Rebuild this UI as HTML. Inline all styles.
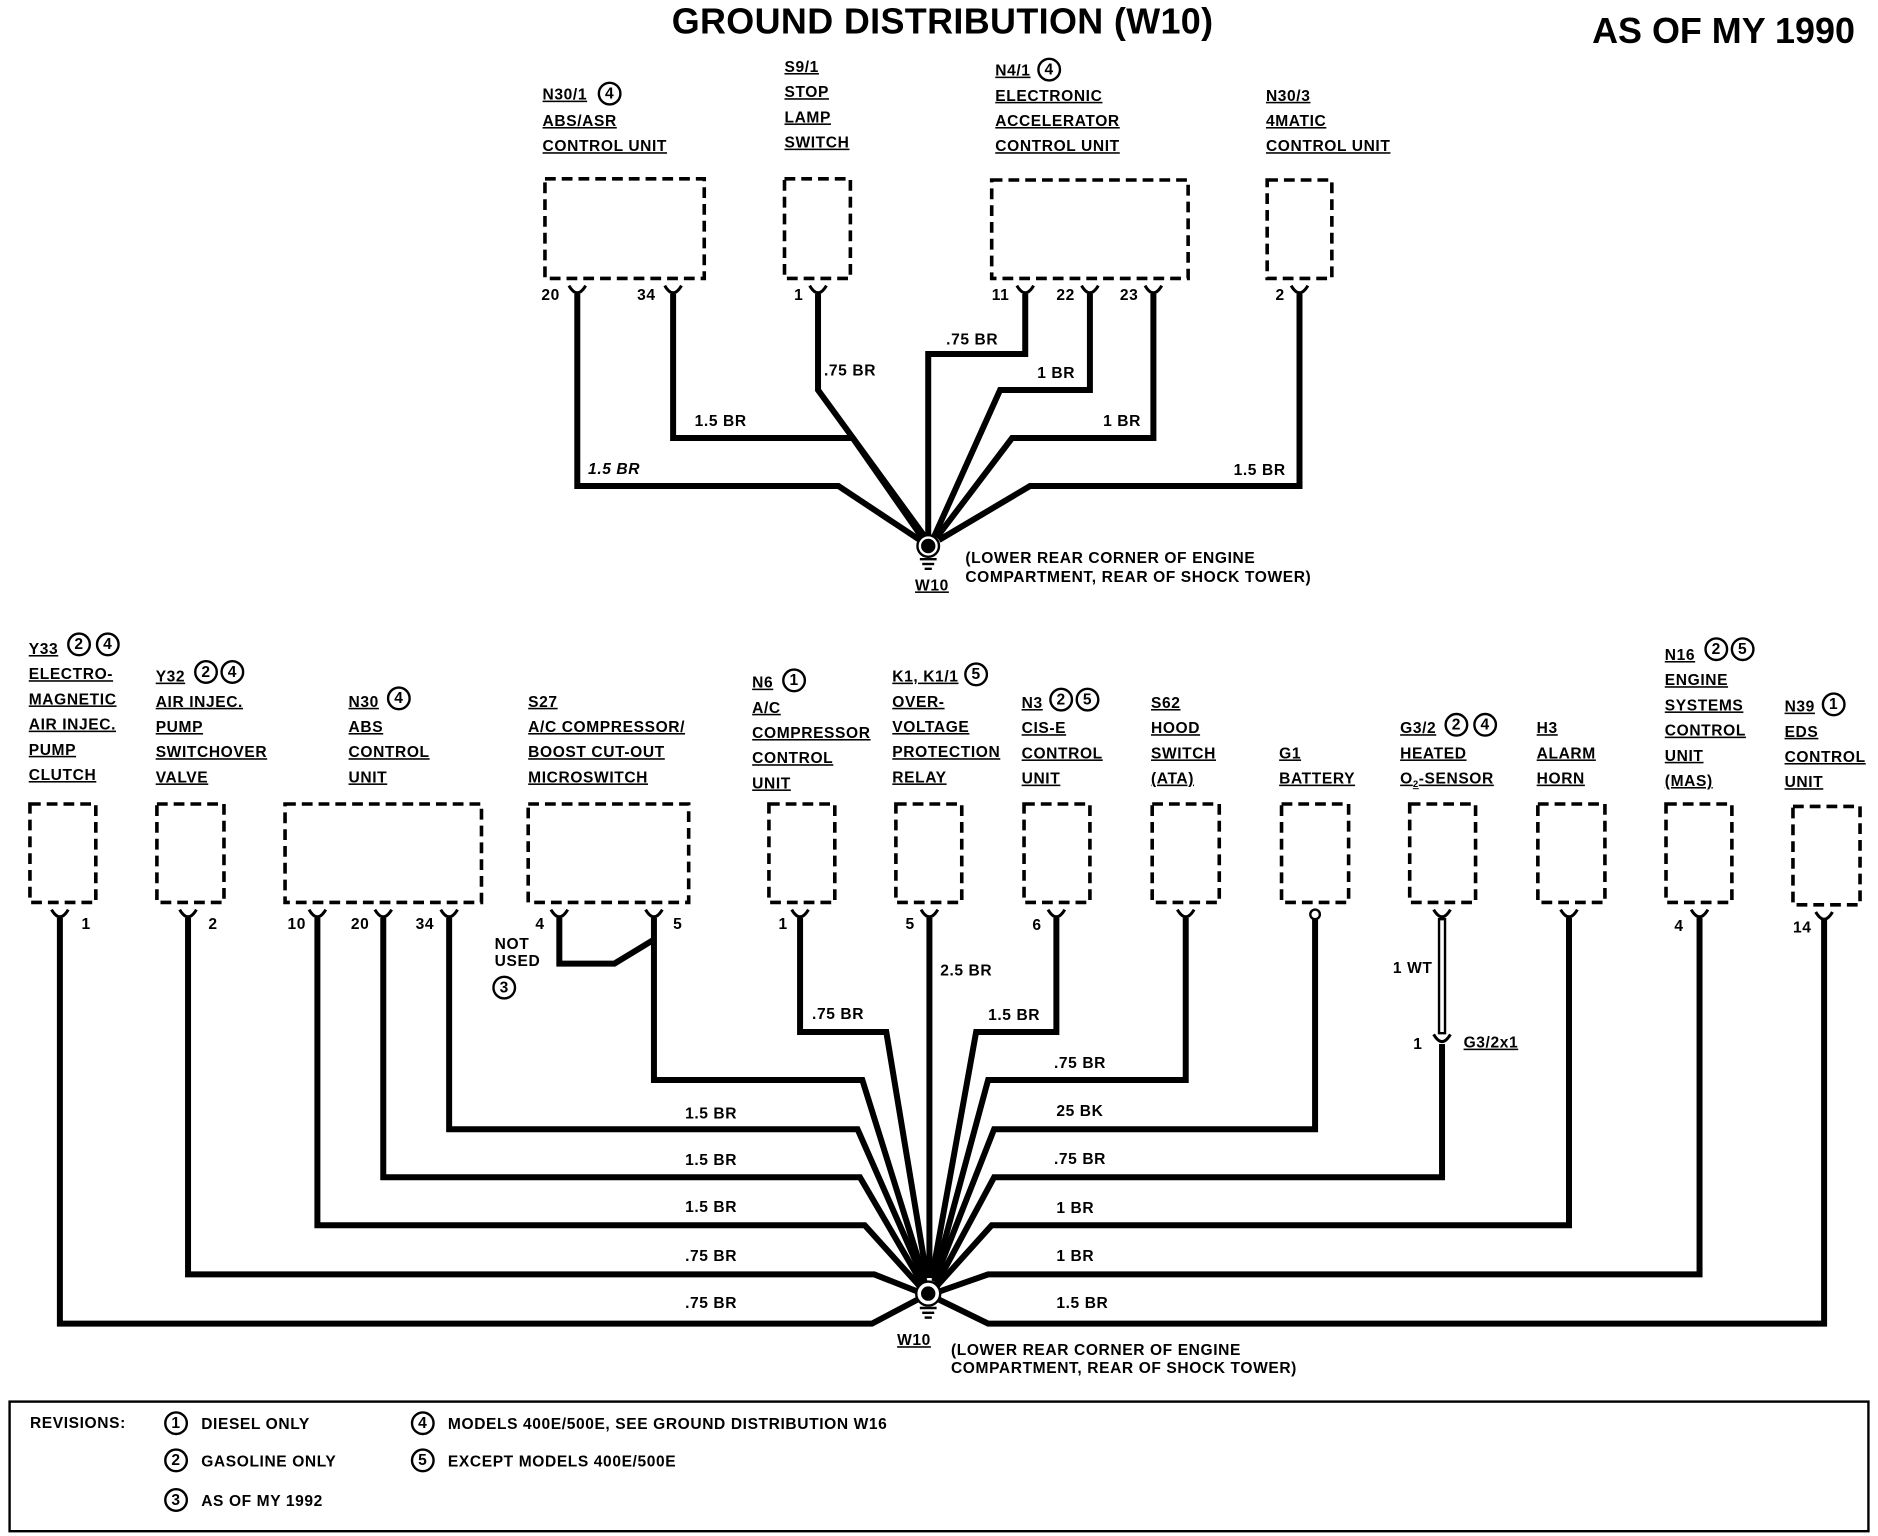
<!DOCTYPE html>
<html><head><meta charset="utf-8"><style>
html,body{margin:0;padding:0;background:#fff;}
svg{display:block;}
text{font-family:"Liberation Sans",Arial,sans-serif;font-weight:bold;font-size:13px;fill:#000;letter-spacing:0.5px;}
.u{text-decoration:underline;}
</style></head><body>
<svg width="1878" height="1536" viewBox="0 0 1568 1280" preserveAspectRatio="none" xmlns="http://www.w3.org/2000/svg">
<rect width="1568" height="1280" fill="#fff"/>
<text x="787" y="28" text-anchor="middle" style="font-size:30px;letter-spacing:0.3px">GROUND DISTRIBUTION (W10)</text>
<text x="1439" y="36" text-anchor="middle" style="font-size:30px;letter-spacing:0px">AS OF MY 1990</text>

<!-- boxes -->
<g fill="none" stroke="#000" stroke-width="3" stroke-dasharray="9,5">
<rect x="455" y="149" width="133" height="83"/>
<rect x="655" y="149" width="55" height="83"/>
<rect x="828" y="150" width="164" height="82"/>
<rect x="1058" y="150" width="54" height="82"/>
<rect x="25" y="670" width="55" height="82"/>
<rect x="131" y="670" width="56" height="82"/>
<rect x="238" y="670" width="164" height="82"/>
<rect x="441" y="670" width="134" height="82"/>
<rect x="642" y="670" width="55" height="82"/>
<rect x="748" y="670" width="55" height="82"/>
<rect x="855" y="670" width="55" height="82"/>
<rect x="962" y="670" width="56" height="82"/>
<rect x="1070" y="670" width="56" height="82"/>
<rect x="1177" y="670" width="55" height="82"/>
<rect x="1284" y="670" width="56" height="82"/>
<rect x="1391" y="670" width="55" height="82"/>
<rect x="1497" y="672" width="56" height="82"/>
</g>

<!-- wires -->
<g fill="none" stroke="#000" stroke-width="5" stroke-linejoin="miter">
<path d="M482,245 V405 H700 L768,450"/>
<path d="M562,245 V365 H712 L770,448"/>
<path d="M683,245 V325 L772,447"/>
<path d="M856,245 V295 H775 V447"/>
<path d="M910,245 V325 H835 L780,447"/>
<path d="M963,245 V365 H845 L782,448"/>
<path d="M1085,245 V405 H860 L784,450"/>

<path d="M50,765 V1103 H728 L768,1082"/>
<path d="M157,765 V1062 H730 L768,1077"/>
<path d="M265,765 V1021 H722 L768,1072"/>
<path d="M320,765 V981 H718 L770,1070"/>
<path d="M375,765 V941 H716 L772,1068"/>
<path d="M546,765 V900 H720 L772,1066"/>
<path d="M467,765 V803 H513 L546,783"/>
<path d="M668,765 V860 H740 L774,1065"/>
<path d="M776,765 V1065"/>
<path d="M882,765 V860 H815 L778,1065"/>
<path d="M990,765 V900 H825 L780,1066"/>
<path d="M1098,765 V941 H830 L780,1068"/>
<path d="M1204,870 V981 H830 L782,1070"/>
<path d="M1310,765 V1021 H828 L782,1072"/>
<path d="M1419,765 V1062 H825 L782,1077"/>
<path d="M1523,765 V1103 H825 L782,1082"/>
</g>
<path d="M1204,765 V862" stroke="#000" stroke-width="7" fill="none"/>
<path d="M1204,767 V860" stroke="#fff" stroke-width="3" fill="none"/>

<!-- pin connectors -->
<g fill="none" stroke="#000" stroke-width="2.5">
<path d="M475,238 Q482,250 489,238"/><path d="M555,238 Q562,250 569,238"/>
<path d="M676,238 Q683,250 690,238"/><path d="M849,238 Q856,250 863,238"/>
<path d="M903,238 Q910,250 917,238"/><path d="M956,238 Q963,250 970,238"/>
<path d="M1078,238 Q1085,250 1092,238"/>
<path d="M43,758 Q50,770 57,758"/><path d="M150,758 Q157,770 164,758"/>
<path d="M258,758 Q265,770 272,758"/><path d="M313,758 Q320,770 327,758"/>
<path d="M368,758 Q375,770 382,758"/><path d="M460,758 Q467,770 474,758"/>
<path d="M539,758 Q546,770 553,758"/><path d="M661,758 Q668,770 675,758"/>
<path d="M769,758 Q776,770 783,758"/><path d="M875,758 Q882,770 889,758"/>
<path d="M983,758 Q990,770 997,758"/><path d="M1197,758 Q1204,770 1211,758"/>
<path d="M1303,758 Q1310,770 1317,758"/><path d="M1412,758 Q1419,770 1426,758"/>
<path d="M1516,760 Q1523,772 1530,760"/>
<path d="M1197,862 Q1204,874 1211,862"/>
</g>
<circle cx="1098" cy="762" r="4" fill="#fff" stroke="#000" stroke-width="2"/>

<!-- grounds -->
<g stroke="#000" stroke-width="2">
<circle cx="775" cy="455" r="9" fill="#fff"/><circle cx="775" cy="455" r="5" fill="#000"/>
<line x1="768" y1="466" x2="782" y2="466"/><line x1="770" y1="470" x2="780" y2="470"/><line x1="772" y1="474" x2="778" y2="474"/>
<circle cx="775" cy="1078" r="10" fill="#fff"/><circle cx="775" cy="1078" r="5" fill="#000"/>
<line x1="768" y1="1090" x2="782" y2="1090"/><line x1="770" y1="1094" x2="780" y2="1094"/><line x1="772" y1="1098" x2="778" y2="1098"/>
</g>
<text x="764" y="492" class="u">W10</text>
<text x="806" y="469">(LOWER REAR CORNER OF ENGINE</text>
<text x="806" y="485">COMPARTMENT, REAR OF SHOCK TOWER)</text>
<text x="749" y="1121" class="u">W10</text>
<text x="794" y="1129">(LOWER REAR CORNER OF ENGINE</text>
<text x="794" y="1144">COMPARTMENT, REAR OF SHOCK TOWER)</text>

<!-- circles -->
<g fill="#fff" stroke="#000" stroke-width="2">
<circle cx="509" cy="78" r="9"/><circle cx="876" cy="58" r="9"/>
<circle cx="66" cy="537" r="9"/><circle cx="90" cy="537" r="9"/>
<circle cx="172" cy="560" r="9"/><circle cx="194" cy="560" r="9"/>
<circle cx="333" cy="582" r="9"/><circle cx="663" cy="567" r="9"/>
<circle cx="815" cy="562" r="9"/><circle cx="886" cy="583" r="9"/><circle cx="908" cy="583" r="9"/>
<circle cx="1216" cy="604" r="9"/><circle cx="1240" cy="604" r="9"/>
<circle cx="1433" cy="541" r="9"/><circle cx="1455" cy="541" r="9"/>
<circle cx="1531" cy="587" r="9"/><circle cx="421" cy="823" r="9"/>
<circle cx="147" cy="1186" r="9"/><circle cx="147" cy="1217" r="9"/><circle cx="147" cy="1250" r="9"/>
<circle cx="353" cy="1186" r="9"/><circle cx="353" cy="1217" r="9"/>
</g>
<g text-anchor="middle" style="font-size:12px">
<text x="509" y="82">4</text><text x="876" y="62">4</text>
<text x="66" y="541">2</text><text x="90" y="541">4</text>
<text x="172" y="564">2</text><text x="194" y="564">4</text>
<text x="333" y="586">4</text><text x="663" y="571">1</text>
<text x="815" y="566">5</text><text x="886" y="587">2</text><text x="908" y="587">5</text>
<text x="1216" y="608">2</text><text x="1240" y="608">4</text>
<text x="1433" y="545">2</text><text x="1455" y="545">5</text>
<text x="1531" y="591">1</text><text x="421" y="827">3</text>
<text x="147" y="1190">1</text><text x="147" y="1221">2</text><text x="147" y="1254">3</text>
<text x="353" y="1190">4</text><text x="353" y="1221">5</text>
</g>

<!-- top headers -->
<text x="453" y="83" class="u">N30/1</text><text x="453" y="105" class="u">ABS/ASR</text><text x="453" y="126" class="u">CONTROL UNIT</text>
<text x="655" y="60" class="u">S9/1</text><text x="655" y="81" class="u">STOP</text><text x="655" y="102" class="u">LAMP</text><text x="655" y="123" class="u">SWITCH</text>
<text x="831" y="63" class="u">N4/1</text><text x="831" y="84" class="u">ELECTRONIC</text><text x="831" y="105" class="u">ACCELERATOR</text><text x="831" y="126" class="u">CONTROL UNIT</text>
<text x="1057" y="84" class="u">N30/3</text><text x="1057" y="105" class="u">4MATIC</text><text x="1057" y="126" class="u">CONTROL UNIT</text>

<!-- bottom headers -->
<text x="24" y="545" class="u">Y33</text><text x="24" y="566" class="u">ELECTRO-</text><text x="24" y="587" class="u">MAGNETIC</text><text x="24" y="608" class="u">AIR INJEC.</text><text x="24" y="629" class="u">PUMP</text><text x="24" y="650" class="u">CLUTCH</text>
<text x="130" y="568" class="u">Y32</text><text x="130" y="589" class="u">AIR INJEC.</text><text x="130" y="610" class="u">PUMP</text><text x="130" y="631" class="u">SWITCHOVER</text><text x="130" y="652" class="u">VALVE</text>
<text x="291" y="589" class="u">N30</text><text x="291" y="610" class="u">ABS</text><text x="291" y="631" class="u">CONTROL</text><text x="291" y="652" class="u">UNIT</text>
<text x="441" y="589" class="u">S27</text><text x="441" y="610" class="u">A/C COMPRESSOR/</text><text x="441" y="631" class="u">BOOST CUT-OUT</text><text x="441" y="652" class="u">MICROSWITCH</text>
<text x="628" y="573" class="u">N6</text><text x="628" y="594" class="u">A/C</text><text x="628" y="615" class="u">COMPRESSOR</text><text x="628" y="636" class="u">CONTROL</text><text x="628" y="657" class="u">UNIT</text>
<text x="745" y="568" class="u">K1, K1/1</text><text x="745" y="589" class="u">OVER-</text><text x="745" y="610" class="u">VOLTAGE</text><text x="745" y="631" class="u">PROTECTION</text><text x="745" y="652" class="u">RELAY</text>
<text x="853" y="590" class="u">N3</text><text x="853" y="611" class="u">CIS-E</text><text x="853" y="632" class="u">CONTROL</text><text x="853" y="653" class="u">UNIT</text>
<text x="961" y="590" class="u">S62</text><text x="961" y="611" class="u">HOOD</text><text x="961" y="632" class="u">SWITCH</text><text x="961" y="653" class="u">(ATA)</text>
<text x="1068" y="632" class="u">G1</text><text x="1068" y="653" class="u">BATTERY</text>
<text x="1169" y="611" class="u">G3/2</text><text x="1169" y="632" class="u">HEATED</text><text x="1169" y="653" class="u">O<tspan style="font-size:8px" dy="3">2</tspan><tspan dy="-3">-SENSOR</tspan></text>
<text x="1283" y="611" class="u">H3</text><text x="1283" y="632" class="u">ALARM</text><text x="1283" y="653" class="u">HORN</text>
<text x="1390" y="550" class="u">N16</text><text x="1390" y="571" class="u">ENGINE</text><text x="1390" y="592" class="u">SYSTEMS</text><text x="1390" y="613" class="u">CONTROL</text><text x="1390" y="634" class="u">UNIT</text><text x="1390" y="655" class="u">(MAS)</text>
<text x="1490" y="593" class="u">N39</text><text x="1490" y="614" class="u">EDS</text><text x="1490" y="635" class="u">CONTROL</text><text x="1490" y="656" class="u">UNIT</text>

<!-- pin numbers -->
<text x="452" y="250">20</text><text x="532" y="250">34</text><text x="663" y="250">1</text>
<text x="828" y="250">11</text><text x="882" y="250">22</text><text x="935" y="250">23</text><text x="1065" y="250">2</text>
<text x="68" y="774">1</text><text x="174" y="774">2</text><text x="240" y="774">10</text><text x="293" y="774">20</text><text x="347" y="774">34</text>
<text x="447" y="774">4</text><text x="562" y="774">5</text><text x="650" y="774">1</text><text x="756" y="774">5</text><text x="862" y="775">6</text>
<text x="1398" y="776">4</text><text x="1497" y="777">14</text>
<text x="413" y="791">NOT</text><text x="413" y="805">USED</text>

<!-- wire labels -->
<text x="491" y="395" style="font-style:italic">1.5 BR</text>
<text x="580" y="355">1.5 BR</text>
<text x="688" y="313">.75 BR</text>
<text x="790" y="287">.75 BR</text>
<text x="866" y="315">1 BR</text>
<text x="921" y="355">1 BR</text>
<text x="1030" y="396">1.5 BR</text>

<text x="572" y="932">1.5 BR</text><text x="572" y="971">1.5 BR</text><text x="572" y="1010">1.5 BR</text>
<text x="572" y="1051">.75 BR</text><text x="572" y="1090">.75 BR</text>
<text x="880" y="890">.75 BR</text><text x="882" y="930">25 BK</text><text x="880" y="970">.75 BR</text>
<text x="882" y="1011">1 BR</text><text x="882" y="1051">1 BR</text><text x="882" y="1090">1.5 BR</text>
<text x="785" y="813">2.5 BR</text><text x="678" y="849">.75 BR</text><text x="825" y="850">1.5 BR</text>
<text x="1163" y="811">1 WT</text><text x="1180" y="874">1</text><text x="1222" y="873" class="u">G3/2x1</text>

<!-- revisions -->
<rect x="8" y="1168" width="1552" height="108" fill="none" stroke="#000" stroke-width="2"/>
<text x="25" y="1190">REVISIONS:</text>
<text x="168" y="1191">DIESEL ONLY</text>
<text x="168" y="1222">GASOLINE ONLY</text>
<text x="168" y="1255">AS OF MY 1992</text>
<text x="374" y="1191">MODELS 400E/500E, SEE GROUND DISTRIBUTION W16</text>
<text x="374" y="1222">EXCEPT MODELS 400E/500E</text>
</svg>
</body></html>
